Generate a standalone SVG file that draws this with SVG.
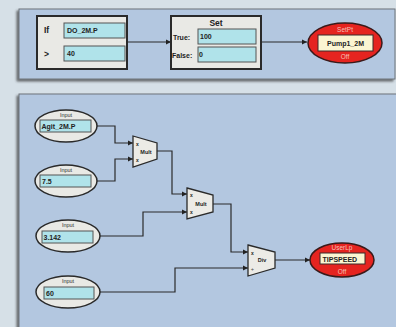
<svg xmlns="http://www.w3.org/2000/svg" width="396" height="327" viewBox="0 0 396 327">
<defs>
<marker id="arr" markerWidth="6" markerHeight="6" refX="5" refY="3" orient="auto" markerUnits="userSpaceOnUse">
<path d="M0,0.5 L5,3 L0,5.5 z" fill="#222"/>
</marker>
<filter id="sh" x="-5%" y="-5%" width="110%" height="115%">
<feDropShadow dx="-2" dy="2" stdDeviation="1.2" flood-color="#333" flood-opacity="0.7"/>
</filter>
</defs>
<style>
text{font-family:"Liberation Sans",Arial,sans-serif;}
.panel{fill:#b3c7e0;stroke:#6f747a;stroke-width:1;}
.box{fill:#e9e9e5;stroke:#2a2a2a;stroke-width:2;}
.fld{fill:#b0e3ea;stroke:#555;stroke-width:1;}
.lbl{font-size:8.5px;font-weight:bold;fill:#222;}
.val{font-size:7px;font-weight:bold;fill:#222;}
.inp{fill:#e9e9e5;stroke:#2a2a2a;stroke-width:1.5;}
.ititle{font-size:5.5px;fill:#333;text-anchor:middle;}
.op{fill:#ecebe6;stroke:#2a2a2a;stroke-width:1.3;}
.optxt{font-size:5.5px;font-weight:bold;fill:#222;text-anchor:middle;}
.pin{font-size:5px;font-weight:bold;fill:#222;}
.red{fill:#e52420;stroke:#3a1a1a;stroke-width:1.5;}
.cream{fill:#fbf5d2;stroke:#3a2a2a;stroke-width:1;}
.rtxt{font-size:6.5px;fill:#f5c0b8;text-anchor:middle;}
.wire{fill:none;stroke:#2a2a2a;stroke-width:1.2;marker-end:url(#arr);}
</style>
<rect width="396" height="327" fill="#d6e0e7"/>
<rect class="panel" x="19" y="9" width="376" height="70" filter="url(#sh)"/>
<rect class="panel" x="19" y="94" width="378" height="240" filter="url(#sh)"/>

<g id="connectors">
<path class="wire" d="M127,42 H171"/>
<path class="wire" d="M261,42 H307"/>
<path class="wire" d="M97,126 H115 V143 H133"/>
<path class="wire" d="M97,181 H115 V159 H133"/>
<path class="wire" d="M157,151 H172 V194 H187"/>
<path class="wire" d="M100,236 H143 V212 H187"/>
<path class="wire" d="M213,204 H231 V252 H248"/>
<path class="wire" d="M100,292 H175 V268 H248"/>
<path class="wire" d="M275,260 H310"/>
</g>

<g id="if">
<rect class="box" x="37" y="16" width="90" height="53"/>
<text class="lbl" x="44" y="33">If</text>
<rect class="fld" x="64" y="23" width="61" height="15"/>
<text class="val" x="67" y="33">DO_2M.P</text>
<text class="lbl" x="44" y="57">&gt;</text>
<rect class="fld" x="64" y="46" width="61" height="15"/>
<text class="val" x="67" y="56">40</text>
</g>

<g id="set">
<rect class="box" x="171" y="16" width="90" height="53"/>
<text class="lbl" x="216" y="26" font-size="9.5" text-anchor="middle">Set</text>
<text class="val" x="173" y="39.5" font-size="6.5">True:</text>
<rect class="fld" x="198" y="29" width="58" height="15"/>
<text class="val" x="200" y="39">100</text>
<text class="val" x="172" y="57.5" font-size="6.5">False:</text>
<rect class="fld" x="198" y="47" width="58" height="15"/>
<text class="val" x="199" y="57">0</text>
</g>

<g id="setpt">
<ellipse class="red" cx="345" cy="43" rx="37" ry="20"/>
<text class="rtxt" x="345" y="31.5">SetPt</text>
<rect class="cream" x="318" y="35" width="55" height="16"/>
<text class="val" x="345.5" y="46" text-anchor="middle" font-size="8">Pump1_2M</text>
<text class="rtxt" x="345" y="58.5">Off</text>
</g>

<g id="input1">
<ellipse class="inp" cx="66" cy="126" rx="31" ry="16"/>
<text class="ititle" x="66" y="117">Input</text>
<rect class="fld" x="40" y="120" width="51" height="12"/>
<text class="val" x="41.5" y="128.5" font-size="6.3">Agit_2M.P</text>
</g>
<g id="input2">
<ellipse class="inp" cx="66" cy="181" rx="31" ry="16"/>
<text class="ititle" x="66" y="172">Input</text>
<rect class="fld" x="40" y="175" width="51" height="12"/>
<text class="val" x="42" y="183.5" font-size="6.3">7.5</text>
</g>
<g id="input3">
<ellipse class="inp" cx="68" cy="236" rx="32" ry="16"/>
<text class="ititle" x="68" y="227">Input</text>
<rect class="fld" x="42" y="231" width="51" height="12"/>
<text class="val" x="43.5" y="239.5" font-size="6.3">3.142</text>
</g>
<g id="input4">
<ellipse class="inp" cx="68" cy="292" rx="32" ry="16"/>
<text class="ititle" x="68" y="283">Input</text>
<rect class="fld" x="44" y="287" width="50" height="12"/>
<text class="val" x="46" y="295.5" font-size="6.3">60</text>
</g>

<g id="mult1">
<path class="op" d="M133,136 L157,143 L157,159 L133,167 z"/>
<text class="pin" x="136" y="146">x</text>
<text class="pin" x="136" y="162">x</text>
<text class="optxt" x="146" y="154">Mult</text>
</g>
<g id="mult2">
<path class="op" d="M187,188 L213,195 L213,212 L187,219 z"/>
<text class="pin" x="190" y="197">x</text>
<text class="pin" x="190" y="214">x</text>
<text class="optxt" x="201" y="206">Mult</text>
</g>
<g id="div">
<path class="op" d="M248,245 L275,252 L275,268 L248,276 z"/>
<text class="pin" x="251" y="255">x</text>
<text class="pin" x="251" y="271">÷</text>
<text class="optxt" x="262" y="262">Div</text>
</g>

<g id="userlp">
<ellipse class="red" cx="342" cy="260" rx="32" ry="17"/>
<text class="rtxt" x="342" y="250">UserLp</text>
<rect class="cream" x="320" y="253" width="45" height="11"/>
<text class="val" x="322.5" y="261.5" font-size="6.5">TIPSPEED</text>
<text class="rtxt" x="342" y="274">Off</text>
</g>
</svg>
